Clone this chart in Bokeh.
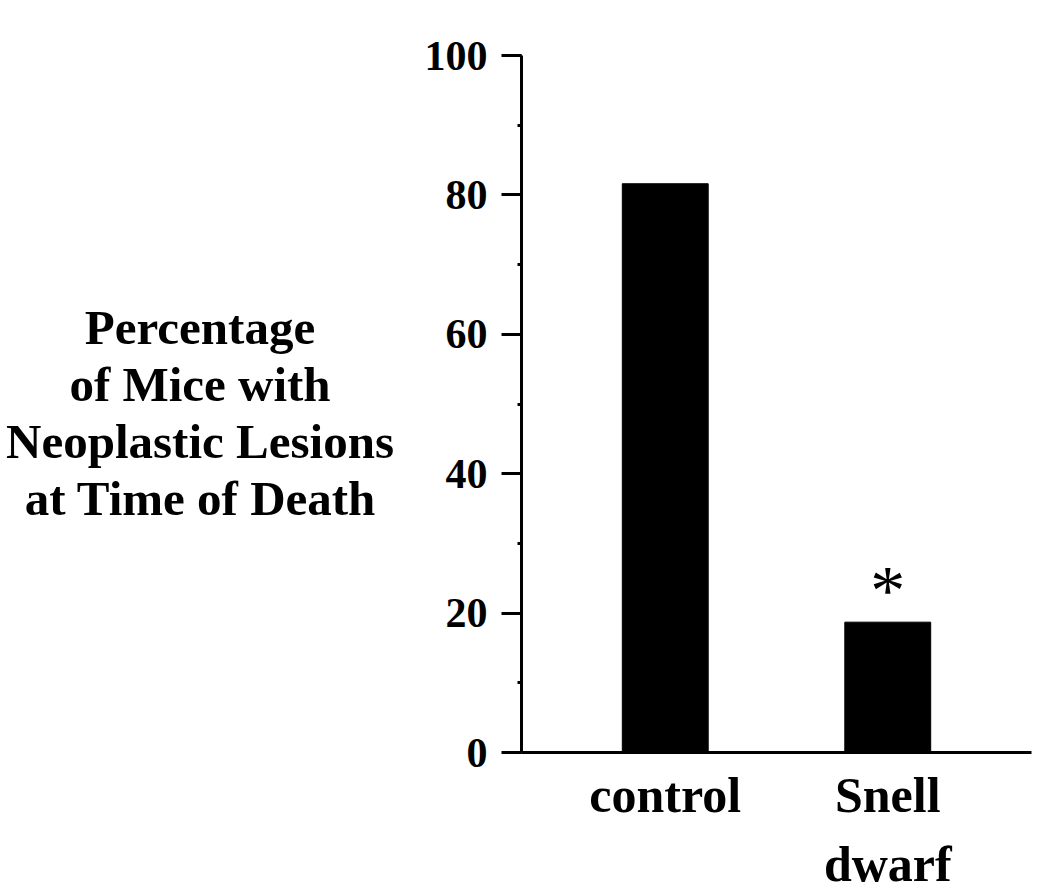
from bokeh.plotting import figure
from bokeh.models import FactorRange, Range1d, SingleIntervalTicker, ColumnDataSource, Div
from bokeh.layouts import row
from bokeh.core.properties import value
from bokeh.embed import file_html
from bokeh.resources import INLINE

# ---- data ----
groups = ["control", "Snell\ndwarf"]
percent = [81.6, 18.7]
marks = ["", "*"]
y_label_lines = ["Percentage", "of Mice with", "Neoplastic Lesions", "at Time of Death"]

SERIF = "Liberation Serif"

source = ColumnDataSource(dict(group=groups, percent=percent, mark=marks))

p = figure(
    width=620, height=894,
    x_range=FactorRange(*groups, range_padding=0.146, range_padding_units="absolute"),
    y_range=Range1d(0, 100),
    output_backend="svg", toolbar_location=None,
    min_border_left=101, min_border_right=9, min_border_top=55, min_border_bottom=140,
)
p.outline_line_color = None
p.xgrid.visible = False
p.ygrid.visible = False

p.vbar(x="group", top="percent", width=0.386, bottom=0, source=source,
       fill_color="black", line_color="black")

p.text(x="group", y="percent", text="mark", source=source,
       text_align="center", text_baseline="alphabetic", y_offset=-32,
       text_font=value(SERIF), text_font_size="70px", text_color="black")

# y axis
ya = p.yaxis[0]
ya.ticker = SingleIntervalTicker(interval=20, num_minor_ticks=2)
ya.axis_line_width = 3
ya.axis_line_color = "black"
ya.major_tick_line_width = 3
ya.major_tick_out = 20
ya.major_tick_in = 0
ya.minor_tick_line_width = 3
ya.minor_tick_out = 4
ya.minor_tick_in = 0
ya.major_label_text_font = SERIF
ya.major_label_text_font_style = "bold"
ya.major_label_text_font_size = "42px"
ya.major_label_text_color = "black"
ya.major_label_standoff = 14

# x axis
xa = p.xaxis[0]
xa.axis_line_width = 3
xa.axis_line_color = "black"
xa.major_tick_line_color = None
xa.minor_tick_line_color = None
xa.major_label_text_font = SERIF
xa.major_label_text_font_style = "bold"
xa.major_label_text_font_size = "50px"
xa.major_label_text_color = "black"
xa.major_label_standoff = 8
xa.major_label_text_line_height = 1.24

# y axis title (horizontal, centred lines)
title_html = (
    '<div style="width:390px;margin-top:294px;text-align:center;'
    "font-family:'Liberation Serif';font-weight:bold;font-size:49px;"
    'line-height:57px;color:black;white-space:nowrap;">'
    + "<br>".join(y_label_lines) + "</div>"
)
title_div = Div(text=title_html, width=410, height=894)

layout = row(title_div, p)

open("out.html", "w").write(file_html(layout, INLINE))
